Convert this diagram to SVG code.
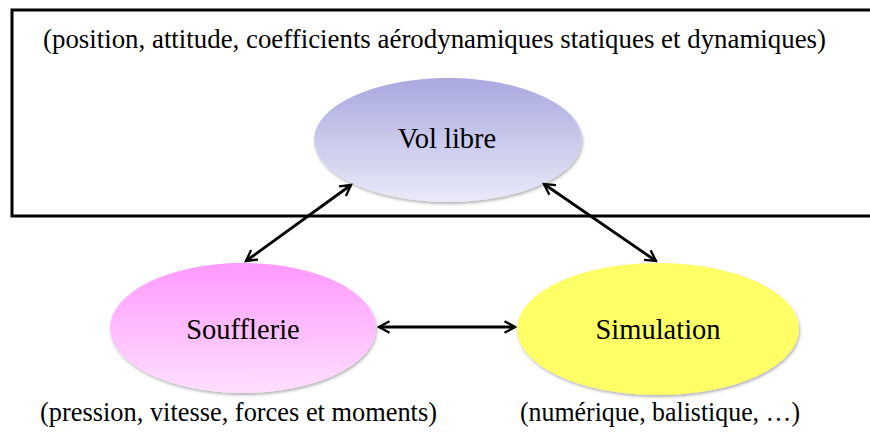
<svg xmlns="http://www.w3.org/2000/svg" width="870" height="434" viewBox="0 0 870 434">
<style>
text{font-family:"Liberation Serif","Times New Roman",serif;fill:#000}
.lbl{font-size:28.5px;text-anchor:middle}
.cap{font-size:26.5px}
.conn{stroke:#000;stroke-width:2.8;fill:none;marker-start:url(#ah);marker-end:url(#ah)}
</style>
<defs>
<linearGradient id="gBlue" x1="0" y1="0" x2="0" y2="1"><stop offset="0" stop-color="#a8a8df"/><stop offset="1" stop-color="#eaeaf9"/></linearGradient>
<linearGradient id="gPink" x1="0" y1="0" x2="0" y2="1"><stop offset="0" stop-color="#ff99fe"/><stop offset="1" stop-color="#ffdfff"/></linearGradient>
<filter id="sh" x="-10%" y="-10%" width="120%" height="130%"><feDropShadow dx="1" dy="2" stdDeviation="1.5" flood-color="#000" flood-opacity="0.3"/></filter>
<marker id="ah" viewBox="0 0 12 12" refX="10" refY="6" markerWidth="5" markerHeight="5" orient="auto-start-reverse" markerUnits="strokeWidth"><path d="M1,1 L10,6 L1,11" fill="none" stroke="#000" stroke-width="2"/></marker>
</defs>
<rect x="12" y="10" width="870" height="206" fill="none" stroke="#000" stroke-width="3"/>
<text class="cap" x="43" y="48" textLength="783" lengthAdjust="spacingAndGlyphs">(position, attitude, coefficients aérodynamiques statiques et dynamiques)</text>
<g id="vol-libre">
<ellipse cx="448" cy="140" rx="134" ry="62" fill="url(#gBlue)" filter="url(#sh)"/>
<text class="lbl" x="447" y="148">Vol libre</text>
</g>
<g id="soufflerie">
<ellipse cx="243" cy="328" rx="133" ry="65" fill="url(#gPink)" filter="url(#sh)"/>
<text class="lbl" x="243" y="339">Soufflerie</text>
</g>
<g id="simulation">
<ellipse cx="658" cy="329" rx="141" ry="66" fill="#ffff66" filter="url(#sh)"/>
<text class="lbl" x="658" y="339">Simulation</text>
</g>
<g id="connectors">
<line class="conn" x1="351" y1="185" x2="246" y2="261"/>
<line class="conn" x1="544" y1="184" x2="656" y2="261"/>
<line class="conn" x1="379" y1="327" x2="515" y2="327"/>
</g>
<text class="cap" x="40" y="421" textLength="397" lengthAdjust="spacingAndGlyphs">(pression, vitesse, forces et moments)</text>
<text class="cap" x="520" y="421" textLength="280" lengthAdjust="spacingAndGlyphs">(numérique, balistique, …)</text>
</svg>
